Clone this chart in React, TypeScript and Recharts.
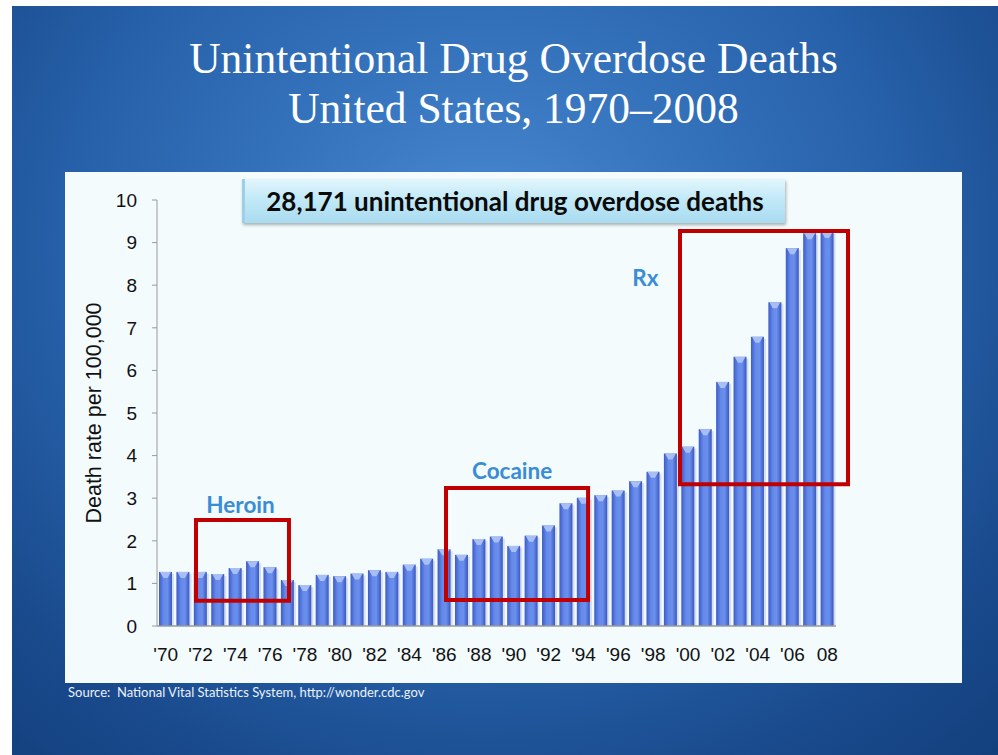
import {
  BarChart, Bar, XAxis, YAxis, ReferenceArea, ReferenceDot,
} from 'recharts'

// Unintentional drug overdose death rate per 100,000, US 1970-2008
const YEARS = [
  1970, 1971, 1972, 1973, 1974, 1975, 1976, 1977, 1978, 1979,
  1980, 1981, 1982, 1983, 1984, 1985, 1986, 1987, 1988, 1989,
  1990, 1991, 1992, 1993, 1994, 1995, 1996, 1997, 1998, 1999,
  2000, 2001, 2002, 2003, 2004, 2005, 2006, 2007, 2008,
]
const RATES = [
  1.27, 1.27, 1.27, 1.22, 1.36, 1.52, 1.38, 1.08, 0.96, 1.2,
  1.17, 1.23, 1.31, 1.27, 1.44, 1.58, 1.8, 1.67, 2.04, 2.1,
  1.88, 2.12, 2.36, 2.88, 3.01, 3.07, 3.18, 3.4, 3.62, 4.05,
  4.21, 4.62, 5.73, 6.32, 6.79, 7.6, 8.87, 9.22, 9.25,
]
const X_TICKS = YEARS.filter((_, i) => i % 2 === 0)
const X_TICK_LABELS = [
  "'70", "'72", "'74", "'76", "'78", "'80", "'82", "'84", "'86", "'88",
  "'90", "'92", "'94", "'96", "'98", "'00", "'02", "'04", "'06", '08',
]
const Y_TICKS = [0, 1, 2, 3, 4, 5, 6, 7, 8, 9, 10]

// highlighted periods: [label, x1, x2, y1, y2, labelX, labelY]
const PERIODS: [string, number, number, number, number, number, number][] = [
  ['Heroin', 1971.74, 1977.08, 0.59, 2.49, 1974.3, 2.84],
  ['Cocaine', 1986.1, 1994.26, 0.61, 3.24, 1989.9, 3.64],
  ['Rx', 1999.54, 2009.19, 3.33, 9.27, 1997.55, 8.17],
]

const data = YEARS.map((year, i) => ({ year, rate: RATES[i] }))

const SANS = '"Liberation Sans", Arial, sans-serif'
const CALIBRI = 'Lato, "Open Sans", sans-serif'
const X_DOMAIN = [1969.5, 2008.5]

const BevelBar = (props: any) => {
  const { x, y, width: w, height: h } = props
  if (!h || h <= 0) return null
  return (
    <g>
      <rect x={x + 2} y={y + 2} width={w} height={h - 2} fill="#c7d1ee" opacity={0.7} />
      <rect x={x} y={y} width={w} height={h} fill="url(#barGrad)" />
      <polygon
        points={`${x + 1},${y} ${x + w - 1},${y} ${x + w / 2 + 2},${y + 6} ${x + w / 2 - 2},${y + 6}`}
        fill="#a8bff6"
      />
    </g>
  )
}

export default function App() {
  return (
    <div style={{ position: 'absolute', left: 0, top: 0, width: 998, height: 755, background: '#fff', overflow: 'hidden' }}>
      <div
        style={{
          position: 'absolute', left: 12, top: 6, width: 986, height: 749,
          background: 'radial-gradient(ellipse 78% 95% at 48% 32%, #4a8bd2 0%, #3573bd 28%, #2660a8 55%, #1a4b8e 78%, #123e7b 100%)',
        }}
      />
      {/* title */}
      <div
        style={{
          position: 'absolute', left: 65, width: 897, top: 33, textAlign: 'center',
          color: '#fff', fontFamily: '"Liberation Serif", "Times New Roman", serif',
          fontSize: 43.5, lineHeight: '50px',
        }}
      >
        <div>Unintentional Drug Overdose Deaths</div>
        <div>United States, 1970–2008</div>
      </div>

      {/* chart panel */}
      <div style={{ position: 'absolute', left: 65, top: 172, width: 897, height: 511, background: '#f3fbfd' }}>
        <BarChart
          width={897}
          height={511}
          data={data}
          margin={{ top: 28, right: 126, bottom: 0, left: 0 }}
        >
          <defs>
            <linearGradient id="barGrad" x1="0" y1="0" x2="1" y2="0">
              <stop offset="0%" stopColor="#3d5cc6" />
              <stop offset="35%" stopColor="#6589ea" />
              <stop offset="65%" stopColor="#6b8fec" />
              <stop offset="100%" stopColor="#3a58c2" />
            </linearGradient>
          </defs>
          <XAxis
            dataKey="year"
            type="number"
            domain={X_DOMAIN}
            allowDataOverflow
            ticks={X_TICKS}
            interval={0}
            tickFormatter={(v: number) => X_TICK_LABELS[X_TICKS.indexOf(v)] ?? ''}
            height={57}
            tickLine={false}
            tickSize={0}
            tickMargin={22}
            axisLine={{ stroke: '#9a9a9a', strokeWidth: 1.5 }}
            tick={{ fill: '#111', fontSize: 19, fontFamily: SANS }}
          />
          <YAxis
            domain={[0, 10]}
            ticks={Y_TICKS}
            interval={0}
            width={92}
            tickSize={5}
            tickMargin={15}
            axisLine={{ stroke: '#9a9a9a' }}
            tickLine={{ stroke: '#9a9a9a' }}
            tick={{ fill: '#111', fontSize: 19, fontFamily: SANS }}
            label={{
              value: 'Death rate per 100,000', angle: -90, position: 'center', dx: -18,
              fill: '#111', fontSize: 21.5, fontFamily: SANS,
            }}
          />
          <Bar dataKey="rate" barSize={13} shape={BevelBar} isAnimationActive={false} />
        </BarChart>

        {/* annotation layer on top of the bars, same scales */}
        <div style={{ position: 'absolute', left: 0, top: 0, zIndex: 2, pointerEvents: 'none' }}>
          <BarChart
            width={897}
            height={511}
            data={data}
            margin={{ top: 28, right: 126, bottom: 0, left: 0 }}
          >
            <XAxis
              dataKey="year"
              type="number"
              domain={X_DOMAIN}
              allowDataOverflow
              height={57}
              axisLine={false}
              tickLine={false}
              tick={false}
            />
            <YAxis domain={[0, 10]} width={92} axisLine={false} tickLine={false} tick={false} />
            <Bar dataKey="rate" barSize={13} fill="none" isAnimationActive={false} />
            {PERIODS.map(([name, x1, x2, y1, y2]) => (
              <ReferenceArea
                key={name}
                x1={x1}
                x2={x2}
                y1={y1}
                y2={y2}
                fill="none"
                fillOpacity={0}
                stroke="#c00000"
                strokeWidth={4}
                strokeOpacity={1}
                ifOverflow="visible"
              />
            ))}
            {PERIODS.map(([name, , , , , lx, ly]) => (
              <ReferenceDot
                key={name + '-label'}
                x={lx}
                y={ly}
                r={0}
                fill="none"
                stroke="none"
                ifOverflow="visible"
                label={{
                  value: name, position: 'center', fill: '#3a8dd4',
                  fontSize: 22.5, fontWeight: 700, fontFamily: CALIBRI,
                }}
              />
            ))}
          </BarChart>
        </div>
      </div>

      {/* callout */}
      <div
        style={{
          position: 'absolute', left: 242, top: 179, width: 543, height: 44,
          background: 'linear-gradient(to bottom, #e2f6fd 0%, #c2e9f7 45%, #a9dbf0 100%)',
          borderLeft: '3px solid #9cd0e8',
          boxShadow: '1px 2px 3px rgba(0,0,0,0.3)',
          boxSizing: 'border-box',
          display: 'flex', alignItems: 'center', justifyContent: 'center',
          fontFamily: CALIBRI, fontWeight: 700, fontSize: 26, color: '#0a0a0a',
        }}
      >
        28,171 unintentional drug overdose deaths
      </div>

      {/* source */}
      <div
        style={{
          position: 'absolute', left: 68, top: 684, color: '#eaf2fb',
          fontFamily: CALIBRI, fontSize: 13,
        }}
      >
        Source:&nbsp; National Vital Statistics System, http://wonder.cdc.gov
      </div>
    </div>
  )
}
